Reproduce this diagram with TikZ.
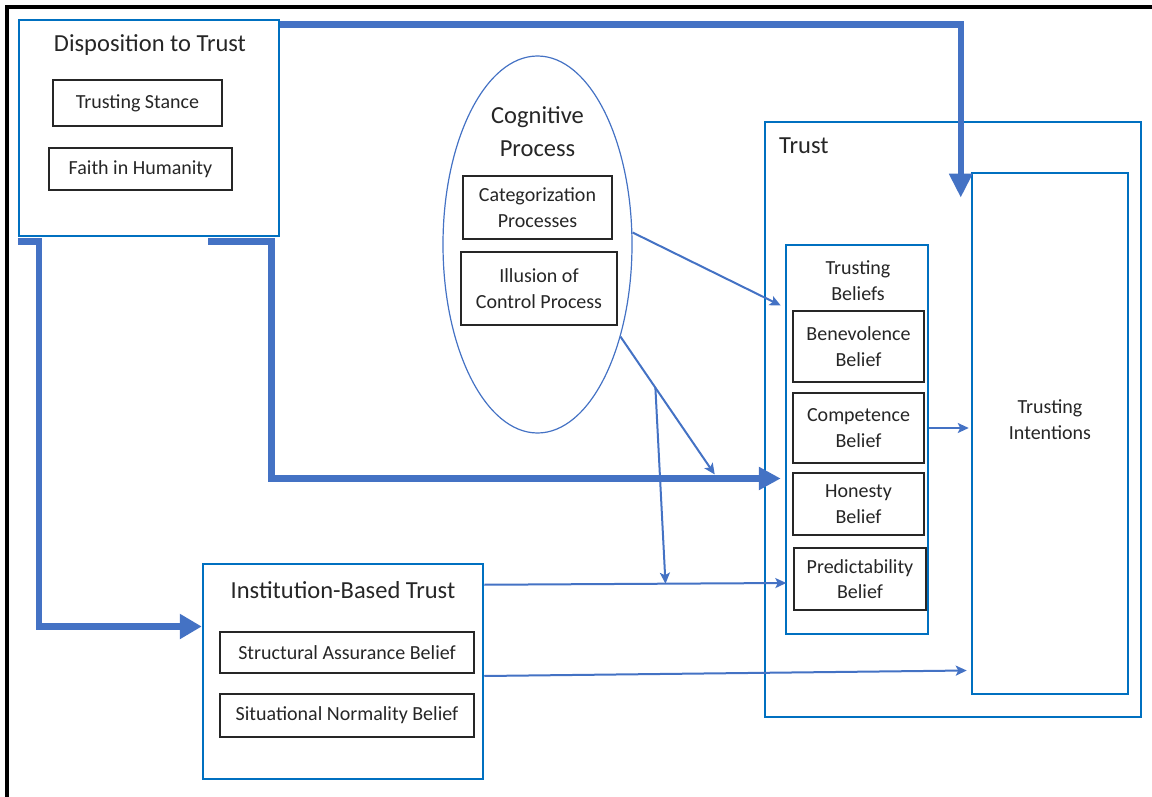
\documentclass[tikz,border=0pt]{standalone}
\usepackage{fontspec}
\setmainfont{Carlito}
\usetikzlibrary{arrows.meta,positioning,calc,shapes.geometric}
\definecolor{boxblue}{RGB}{0,112,192}
\definecolor{arrowblue}{RGB}{68,114,196}

\begin{document}
\begin{tikzpicture}[x=1pt,y=-1pt,
    outer/.style={draw=boxblue, line width=2.5pt, rectangle, inner sep=0pt},
    inbox/.style={draw=black!85, line width=1.4pt, rectangle, inner sep=0pt, align=center,
        text=black!85, font=\fontsize{20}{25.5}\selectfont},
    title/.style={text=black!85, align=center, inner sep=0pt, font=\fontsize{24.5}{33}\selectfont},
    small/.style={text=black!85, align=center, inner sep=0pt, font=\fontsize{20}{26}\selectfont},
    bigarrow/.style={draw=arrowblue, line width=6.5pt, line join=miter},
    thinarrow/.style={draw=arrowblue, line width=2pt, -{Stealth[length=11pt,width=10pt,inset=2.5pt]}}
]
    \useasboundingbox (0,0) rectangle (1152,797);
    % frame
    \draw[black, line width=4pt] (7,797) -- (7,7) -- (1152,7);

    % Disposition to Trust
    \node[outer, minimum width=260, minimum height=216] (disp) at (149,128) {};
    \node[title] (disptitle) at (150,45) {Disposition to Trust};
    \node[inbox, minimum width=169, minimum height=46] (stance) at (137.5,103) {Trusting Stance};
    \node[inbox, minimum width=183, minimum height=42] (faith) at (140.5,169) {Faith in Humanity};

    % Cognitive Process
    \node[ellipse, draw=arrowblue, line width=1.2pt, minimum width=189, minimum height=377, inner sep=0pt] (cogn) at (537.5,244.5) {};
    \node[title] (cogtitle) at (537.5,131.5) {Cognitive\\Process};
    \node[inbox, minimum width=149, minimum height=63] (categ) at (537.5,207.5) {Categorization\\Processes};
    \node[inbox, minimum width=156, minimum height=73] (illus) at (539,288.5) {Illusion of\\Control Process};

    % Trust
    \node[outer, minimum width=376, minimum height=595] (trust) at (953,419.5) {};
    \node[title, anchor=west] (trusttitle) at (779,146) {Trust};
    \node[outer, minimum width=142, minimum height=389] (beliefs) at (857,439.5) {};
    \node[small] (btitle) at (858,280.5) {Trusting\\Beliefs};
    \node[inbox, minimum width=131, minimum height=71] (benev) at (858.5,346.5) {Benevolence\\Belief};
    \node[inbox, minimum width=131, minimum height=70] (comp) at (858.5,428) {Competence\\Belief};
    \node[inbox, minimum width=131, minimum height=62] (hon) at (858.5,504) {Honesty\\Belief};
    \node[inbox, minimum width=132, minimum height=62] (pred) at (860,579) {Predictability\\Belief};
    \node[outer, minimum width=156, minimum height=521] (intent) at (1050,433.5) {};
    \node[small] (itext) at (1050,420) {Trusting\\Intentions};

    % Institution-Based Trust
    \node[outer, minimum width=280, minimum height=215] (inst) at (343,671.5) {};
    \node[title] (insttitle) at (343,590) {Institution-Based Trust};
    \node[inbox, minimum width=254, minimum height=41] (struct) at (347,652.5) {Structural Assurance Belief};
    \node[inbox, minimum width=254, minimum height=43] (situ) at (347,715.5) {Situational Normality Belief};

    % thick connectors
    \draw[bigarrow, -{Triangle[length=24pt,width=22pt]}]
        ([yshift=-6pt]disp.north east) -| ([xshift=-10pt,yshift=-26pt]intent.north west);
    \draw[bigarrow, -{Triangle[length=22pt,width=24pt]}]
        ([yshift=-4pt]disp.south west) -- ++(21,0) |- ([yshift=45pt]inst.west);
    \draw[bigarrow, -{Triangle[length=22pt,width=22pt]}]
        ([xshift=-72pt,yshift=-4pt]disp.south east) -- ++(63,0) |- ([xshift=-4pt,yshift=-39pt]beliefs.west);

    % thin connectors
    \coordinate (meet) at ([xshift=-70pt,yshift=-35pt]beliefs.west);
    \coordinate (dstart) at ([yshift=-22pt]inst.north east);
    \coordinate (dend) at ([xshift=-7pt,yshift=-4pt]pred.west);
    \coordinate (split) at ($(cogn.-48)!0.37!(meet)$);
    \draw[thinarrow] ([yshift=12pt]cogn.east) -- ([xshift=-4pt,yshift=134pt]beliefs.west);
    \draw[thinarrow] (cogn.-48) -- (meet);
    \draw[thinarrow] (split) -- ($(dstart)!0.6!(dend)$);
    \draw[thinarrow] (dstart) -- (dend);
    \draw[thinarrow] ([yshift=-4.5pt]inst.east) -- ([xshift=-4pt,yshift=-237pt]intent.west);
    \draw[thinarrow] (beliefs.east |- comp.east) -- ([xshift=-2pt]intent.west |- comp.east);
\end{tikzpicture}
\end{document}
